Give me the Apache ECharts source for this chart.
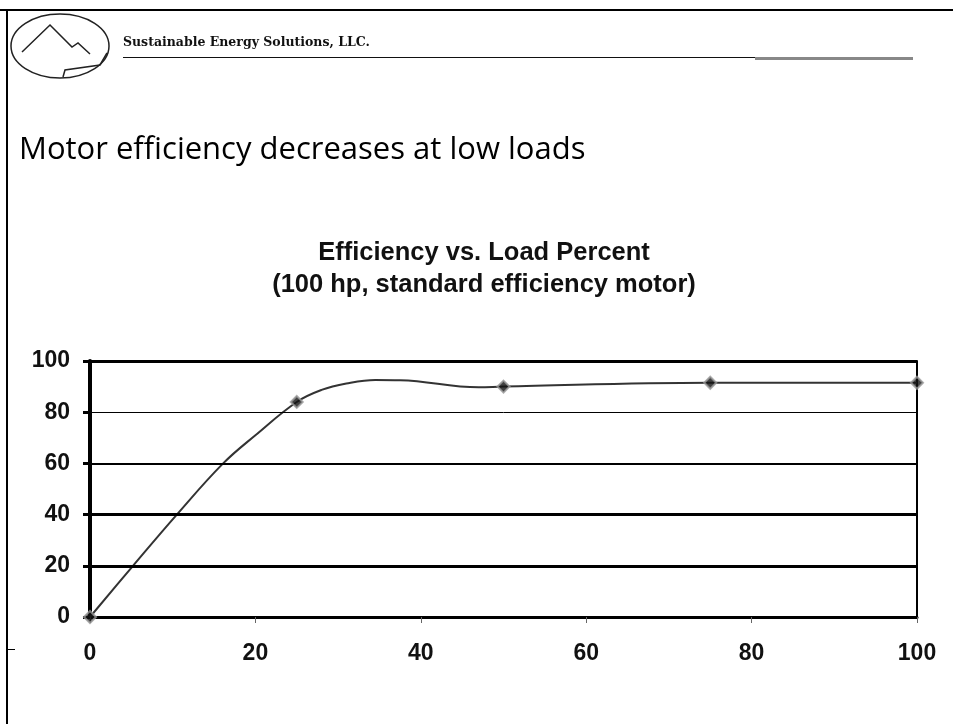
<!DOCTYPE html>
<html>
<head>
<meta charset="utf-8">
<style>
  html, body { margin: 0; padding: 0; background: #fff; }
  #chart { width: 953px; height: 724px; }
</style>
<script src="https://cdn.jsdelivr.net/npm/echarts@6/dist/echarts.min.js"></script>
</head>
<body>
<div id="chart"></div>
<script>
// data points shown with markers
const loadPoints = [0, 25, 50, 75, 100];
const effPoints = [0, 84, 90, 91.5, 91.5];

// the drawn curve (it overshoots between 25 and 50)
const loadCurve = [0, 5.2, 10.5, 16.1, 20, 25, 28, 31, 34.5, 37.5, 47, 50, 75, 100];
const effCurve = [0, 20, 40, 60, 71, 84, 88.7, 91.2, 92.6, 92.5, 89.7, 90, 91.5, 91.5];

// horizontal rules and their stroke widths
const gridValues = [20, 40, 60, 80, 100];
const gridWidths = [3, 3, 2, 1, 3];

const chart = echarts.init(document.getElementById("chart"));

const font = "'Liberation Sans', Arial, sans-serif";

const option = {
  backgroundColor: "#fff",
  animation: false,
  title: [
    {
      text: "Motor efficiency decreases at low loads",
      left: 14,
      top: 130,
      textStyle: {
        fontFamily: "'Open Sans', sans-serif",
        fontWeight: "normal",
        fontSize: 31,
        color: "#000",
      },
    },
    {
      text: "Efficiency vs. Load Percent\n(100 hp, standard efficiency motor)",
      left: 479,
      textAlign: "center",
      top: 232,
      textStyle: {
        fontFamily: font,
        fontWeight: "bold",
        fontSize: 25.5,
        lineHeight: 32,
        color: "#111",
      },
    },
  ],
  grid: {
    left: 90,
    right: 36,
    top: 361,
    bottom: 107,
  },
  xAxis: {
    type: "value",
    min: 0,
    max: 100,
    interval: 20,
    axisLine: { lineStyle: { color: "#000", width: 3 } },
    axisTick: { length: 6, lineStyle: { color: "#666", width: 1 } },
    axisLabel: {
      margin: 25,
      fontFamily: font,
      fontWeight: "bold",
      fontSize: 23,
      color: "#111",
    },
    splitLine: { show: false },
  },
  yAxis: [
    {
      type: "value",
      min: 0,
      max: 100,
      interval: 20,
      axisLine: { show: true, lineStyle: { color: "#000", width: 4 } },
      axisTick: { show: true, length: 7, lineStyle: { color: "#000", width: 3 } },
      axisLabel: {
        margin: 20,
        fontFamily: font,
        fontWeight: "bold",
        fontSize: 23,
        color: "#111",
      },
      splitLine: { show: false },
    },
    {
      type: "value",
      min: 0,
      max: 100,
      interval: 20,
      position: "right",
      axisLine: { show: true, lineStyle: { color: "#000", width: 2 } },
      axisTick: { show: false },
      axisLabel: { show: false },
      splitLine: { show: false },
    },
  ],
  series: [
    {
      name: "curve",
      type: "line",
      data: loadCurve.map((x, i) => [x, effCurve[i]]),
      smooth: 0.4,
      showSymbol: false,
      lineStyle: { color: "#333", width: 2 },
      markLine: {
        silent: true,
        symbol: "none",
        label: { show: false },
        data: gridValues.map((v, i) => ({
          yAxis: v,
          lineStyle: { color: "#000", type: "solid", width: gridWidths[i] },
        })),
      },
      z: 3,
    },
    {
      name: "points",
      type: "scatter",
      data: loadPoints.map((x, i) => [x, effPoints[i]]),
      symbol: "diamond",
      symbolSize: 12,
      itemStyle: { color: "#111", borderColor: "#999", borderWidth: 2 },
      z: 4,
    },
  ],
  graphic: [
    // slide frame
    { type: "line", shape: { x1: 0, y1: 10, x2: 953, y2: 10 }, style: { stroke: "#000", lineWidth: 2 } },
    { type: "line", shape: { x1: 7, y1: 10, x2: 7, y2: 724 }, style: { stroke: "#000", lineWidth: 2 } },
    { type: "line", shape: { x1: 7, y1: 649.5, x2: 15, y2: 649.5 }, style: { stroke: "#000", lineWidth: 1 } },
    // header rule
    { type: "line", shape: { x1: 123, y1: 57.5, x2: 755, y2: 57.5 }, style: { stroke: "#111", lineWidth: 1 } },
    { type: "line", shape: { x1: 755, y1: 58.5, x2: 913, y2: 58.5 }, style: { stroke: "#888", lineWidth: 3 } },
    // logo
    { type: "ellipse", shape: { cx: 60, cy: 46, rx: 49, ry: 32 }, style: { fill: "none", stroke: "#222", lineWidth: 1.5 } },
    {
      type: "polyline",
      shape: { points: [[22, 52], [50, 25], [72, 47], [78, 43], [90, 54]] },
      style: { fill: "none", stroke: "#222", lineWidth: 1.5 },
    },
    {
      type: "polyline",
      shape: { points: [[63, 77], [65, 70], [100, 65], [107, 53]] },
      style: { fill: "none", stroke: "#222", lineWidth: 1.5 },
    },
    {
      type: "text",
      left: 123,
      top: 36,
      style: {
        text: "Sustainable Energy Solutions, LLC.",
        fontFamily: "'DejaVu Serif', serif",
        fontWeight: "bold",
        fontSize: 12.5,
        fill: "#111",
      },
    },
  ],
};

chart.setOption(option);
</script>
</body>
</html>
